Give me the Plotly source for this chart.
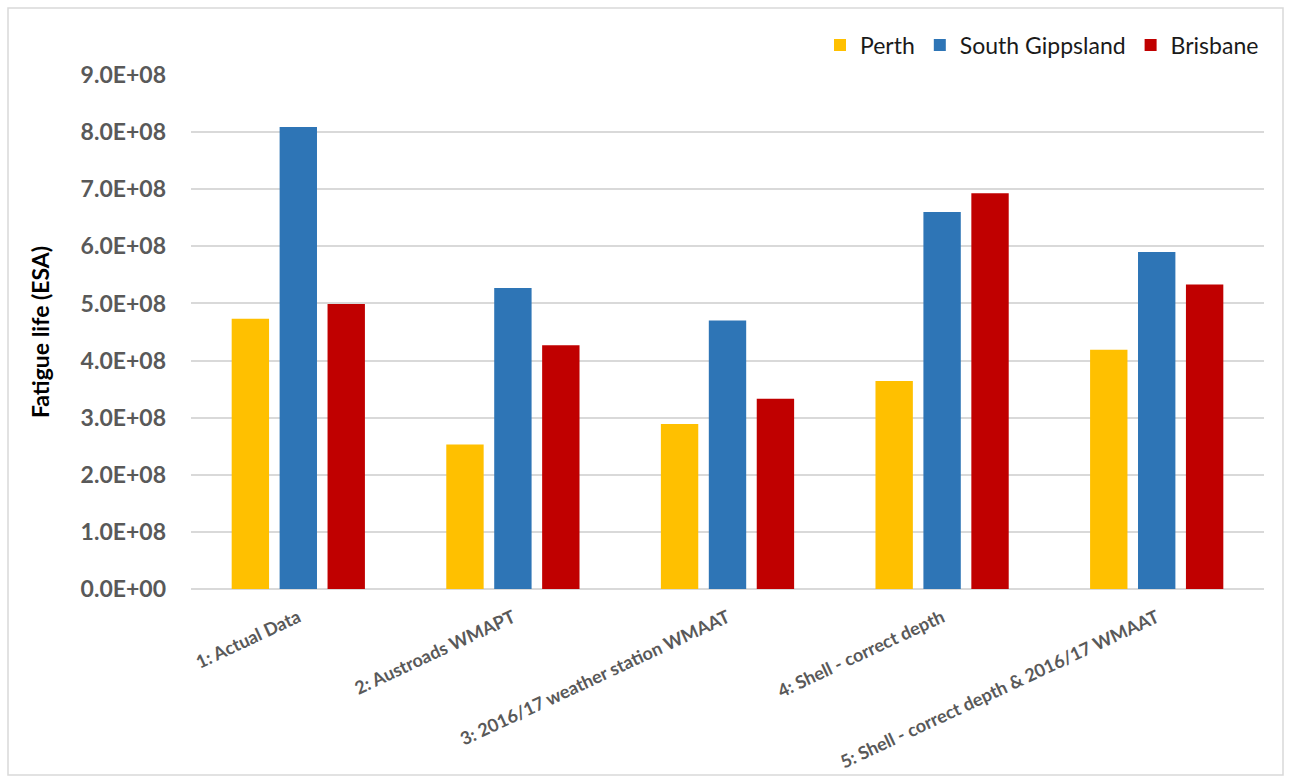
import plotly.graph_objects as go

categories = ["1: Actual Data", "2: Austroads WMAPT", "3: 2016/17 weather station WMAAT",
              "4: Shell - correct depth", "5: Shell - correct depth & 2016/17 WMAAT"]
perth = [4.73e8, 2.53e8, 2.89e8, 3.64e8, 4.19e8]
south_gippsland = [8.09e8, 5.27e8, 4.70e8, 6.60e8, 5.90e8]
brisbane = [4.99e8, 4.27e8, 3.33e8, 6.93e8, 5.33e8]
ytick_vals = [0, 1e8, 2e8, 3e8, 4e8, 5e8, 6e8, 7e8, 8e8, 9e8]
ytick_text = ["0.0E+00", "1.0E+08", "2.0E+08", "3.0E+08", "4.0E+08",
              "5.0E+08", "6.0E+08", "7.0E+08", "8.0E+08", "9.0E+08"]

W, H = 1291, 782
ml, mr, mt, mb = 191, 27, 75, 193
pw, ph = W - ml - mr, H - mt - mb

fig = go.Figure()
for name, vals, col in [("Perth", perth, "#FFC000"),
                        ("South Gippsland", south_gippsland, "#2E75B6"),
                        ("Brisbane", brisbane, "#C00000")]:
    fig.add_trace(go.Bar(name=name, x=categories, y=vals, marker_color=col,
                         marker_line_width=0))

fig.update_layout(
    width=W, height=H,
    margin=dict(l=ml, r=mr, t=mt, b=mb, autoexpand=False),
    paper_bgcolor="white", plot_bgcolor="white",
    font=dict(family="Lato, Open Sans, sans-serif"),
    barmode="group", bargap=0.33, bargroupgap=0.22,
    legend=dict(orientation="h", x=(1264 - ml) / pw, xanchor="right", y=1.0 + (75 - 45) / ph,
                yanchor="middle", font=dict(size=23, color="#1a1a1a"),
                itemwidth=30, traceorder="normal"),
    xaxis=dict(tickangle=-25, tickfont=dict(size=18, color="#595959", family="Lato"),
               showline=False, ticks="", showgrid=False, ticklabelstandoff=14),
    yaxis=dict(range=[0, 9e8], tickvals=ytick_vals, ticktext=ytick_text,
               tickfont=dict(size=23, color="#595959", family="Lato"),
               showgrid=True, gridcolor="#d9d9d9", gridwidth=1.5,
               zeroline=True, zerolinecolor="#d9d9d9", zerolinewidth=1.5,
               ticklabelstandoff=24,
               title=dict(text="<b>Fatigue life (ESA)</b>", font=dict(size=23, color="black"),
                          standoff=24)),
    shapes=[dict(type="rect", xref="paper", yref="paper",
                 x0=(8 - ml) / pw, x1=(1283 - ml) / pw,
                 y0=(H - mb - 775) / ph, y1=(H - mb - 8) / ph,
                 line=dict(color="#d9d9d9", width=1.5), fillcolor="rgba(0,0,0,0)", layer="below")],
)
fig.update_xaxes(tickfont_weight="bold")
fig.update_yaxes(tickfont_weight="bold")
fig.write_html("out.html")
